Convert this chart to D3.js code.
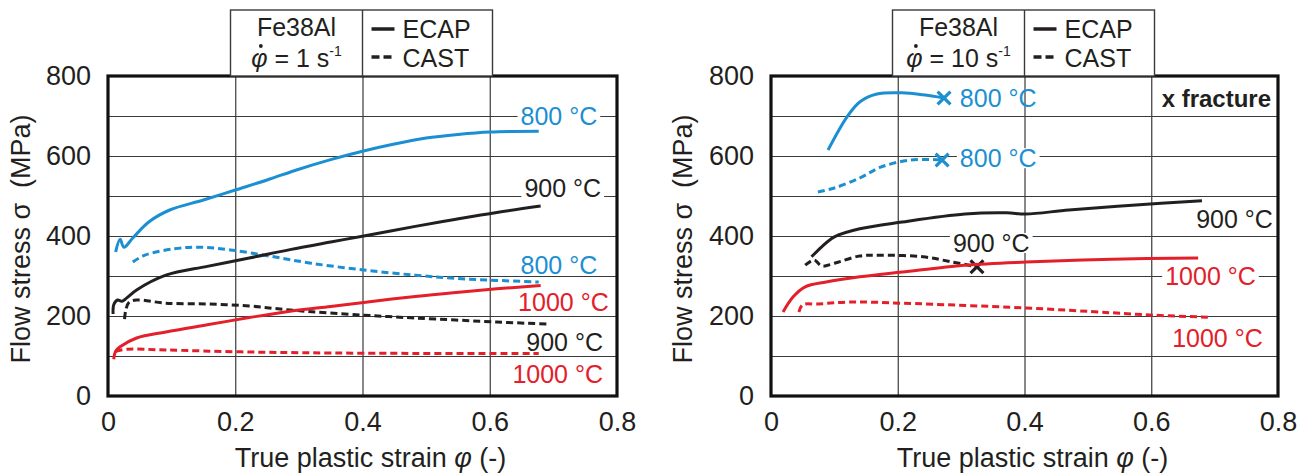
<!DOCTYPE html>
<html>
<head>
<meta charset="utf-8">
<script src="https://cdn.jsdelivr.net/npm/d3@7"></script>
<style>
  body { margin: 0; background: #fff; }
  svg { font-family: "Liberation Sans", Arial, sans-serif; }
</style>
</head>
<body>
<div id="chart"></div>
<script>
// [true plastic strain, flow stress MPa]
// strain rate 1 s-1
const r1Ecap800 = [[0.012,360],[0.019,392],[0.025,372],[0.039,395],[0.064,435],[0.097,465],[0.15,490],[0.2,515],[0.25,540],[0.3,567],[0.35,591],[0.4,612],[0.45,630],[0.5,645],[0.55,654],[0.6,660],[0.677,662]];
const r1Cast800 = [[0.039,335],[0.058,352],[0.104,368],[0.143,372],[0.189,366],[0.253,350],[0.319,332],[0.402,315],[0.483,302],[0.547,294],[0.611,289],[0.677,285]];
const r1Ecap900 = [[0.008,205],[0.009,228],[0.015,240],[0.022,237],[0.03,246],[0.045,265],[0.091,302],[0.156,324],[0.222,345],[0.286,366],[0.35,385],[0.402,400],[0.483,424],[0.547,442],[0.611,459],[0.68,475]];
const r1Cast900 = [[0.026,192],[0.028,215],[0.033,234],[0.045,240],[0.091,232],[0.156,230],[0.222,225],[0.286,215],[0.402,202],[0.483,195],[0.611,185],[0.69,180]];
const r1Ecap1000 = [[0.009,92],[0.012,112],[0.019,123],[0.045,145],[0.091,160],[0.156,178],[0.222,196],[0.286,212],[0.35,224],[0.402,234],[0.483,249],[0.547,259],[0.611,268],[0.68,276]];
const r1Cast1000 = [[0.012,112],[0.03,117],[0.091,115],[0.222,110],[0.402,107],[0.677,106]];

// strain rate 10 s-1
const r10Ecap800 = [[0.09,615],[0.12,698],[0.14,735],[0.167,755],[0.207,758],[0.24,753],[0.273,745]];
const r10Cast800 = [[0.074,510],[0.1,520],[0.14,545],[0.173,572],[0.22,590],[0.27,590]];
const r10Ecap900 = [[0.064,348],[0.08,373],[0.1,398],[0.14,418],[0.207,435],[0.306,455],[0.372,458],[0.402,455],[0.47,465],[0.57,477],[0.68,488]];
const r10Cast900 = [[0.054,327],[0.068,340],[0.08,325],[0.1,332],[0.14,350],[0.173,352],[0.24,348],[0.286,335],[0.325,323]];
const r10Ecap1000 = [[0.019,210],[0.035,248],[0.054,273],[0.087,285],[0.14,298],[0.207,310],[0.306,327],[0.402,335],[0.538,342],[0.674,345]];
const r10Cast1000 = [[0.044,210],[0.05,228],[0.074,230],[0.126,235],[0.207,232],[0.402,220],[0.538,208],[0.604,202],[0.69,197]];

const xTicks = [0, 0.2, 0.4, 0.6, 0.8];
const yTicks = [0, 200, 400, 600, 800];
const yGrid = [100, 200, 300, 400, 500, 600, 700];
const rates = ['1', '10'];

const width = 1308, height = 475;
const colors = { 800: '#1b8fd2', 900: '#231f20', 1000: '#e3202a' };
const ink = '#231f20';

const svg = d3.select('#chart').append('svg')
  .attr('width', width)
  .attr('height', height);

// label: [text, strain, stress, temp, anchor, whiteBg]
const panels = [
  {
    left: 108, right: 617, titleX: 30,
    series: [
      { d: r1Ecap800, t: 800 }, { d: r1Cast800, t: 800, dash: true },
      { d: r1Ecap900, t: 900 }, { d: r1Cast900, t: 900, dash: true },
      { d: r1Ecap1000, t: 1000 }, { d: r1Cast1000, t: 1000, dash: true }
    ],
    labels: [
      ['800 °C', 0.769, 677, 800, 'end', true],
      ['900 °C', 0.775, 497, 900, 'end', true],
      ['800 °C', 0.769, 305, 800, 'end', false],
      ['1000 °C', 0.787, 212, 1000, 'end', false],
      ['900 °C', 0.778, 112, 900, 'end', false],
      ['1000 °C', 0.778, 32, 1000, 'end', false]
    ]
  },
  {
    left: 771, right: 1278, titleX: 692,
    series: [
      { d: r10Ecap800, t: 800, x: true }, { d: r10Cast800, t: 800, dash: true, x: true },
      { d: r10Ecap900, t: 900 }, { d: r10Cast900, t: 900, dash: true, x: true },
      { d: r10Ecap1000, t: 1000 }, { d: r10Cast1000, t: 1000, dash: true }
    ],
    labels: [
      ['800 °C', 0.298, 722, 800, 'start', false],
      ['800 °C', 0.298, 572, 800, 'start', true],
      ['900 °C', 0.792, 420, 900, 'end', false],
      ['900 °C', 0.287, 360, 900, 'start', true],
      ['1000 °C', 0.765, 277, 1000, 'end', true],
      ['1000 °C', 0.776, 122, 1000, 'end', false]
    ]
  }
];

const plotTop = 76, plotBottom = 396;

panels.forEach((p, i) => {
  const x = d3.scaleLinear().domain([0, 0.8]).range([p.left, p.right]);
  const y = d3.scaleLinear().domain([0, 800]).range([plotBottom, plotTop]);
  const g = svg.append('g');

  // grid
  g.append('g')
    .attr('transform', `translate(0,${plotBottom})`)
    .call(d3.axisBottom(x).tickValues(xTicks.slice(1, -1)).tickSize(-(plotBottom - plotTop)).tickFormat(''))
    .call(a => a.select('.domain').remove())
    .call(a => a.selectAll('line').attr('stroke', '#3a3a3a').attr('stroke-width', 1.2));
  g.append('g')
    .attr('transform', `translate(${p.left},0)`)
    .call(d3.axisLeft(y).tickValues(yGrid).tickSize(-(p.right - p.left)).tickFormat(''))
    .call(a => a.select('.domain').remove())
    .call(a => a.selectAll('line').attr('stroke', '#3a3a3a').attr('stroke-width', 1.2));

  // tick labels
  g.append('g')
    .attr('transform', `translate(${p.left},0)`)
    .call(d3.axisLeft(y).tickValues(yTicks).tickSize(0).tickPadding(17))
    .call(a => a.select('.domain').remove())
    .call(a => a.selectAll('text').attr('font-size', 27).attr('fill', ink).attr('font-family', null));
  g.append('g')
    .attr('transform', `translate(0,${plotBottom})`)
    .call(d3.axisBottom(x).tickValues(xTicks).tickSize(0).tickPadding(16).tickFormat(d => d === 0 ? '0' : d3.format('.1f')(d)))
    .call(a => a.select('.domain').remove())
    .call(a => a.selectAll('text').attr('font-size', 27).attr('fill', ink).attr('font-family', null));

  // axis titles
  g.append('text')
    .attr('x', (p.left + p.right) / 2 + 8).attr('y', 467)
    .attr('text-anchor', 'middle').attr('font-size', 27).attr('fill', ink)
    .html('True plastic strain <tspan font-style="italic">φ</tspan> (-)');
  g.append('text')
    .attr('transform', `translate(${p.titleX},${(plotTop + plotBottom) / 2 + 3}) rotate(-90)`)
    .attr('text-anchor', 'middle').attr('font-size', 27).attr('fill', ink)
    .attr('xml:space', 'preserve')
    .text('Flow stress σ  (MPa)');

  // curves
  const line = d3.line().x(d => x(d[0])).y(d => y(d[1])).curve(d3.curveCatmullRom.alpha(0.5));
  p.series.forEach(s => {
    g.append('path')
      .attr('d', line(s.d))
      .attr('fill', 'none')
      .attr('stroke', colors[s.t])
      .attr('stroke-width', 3)
      .attr('stroke-dasharray', s.dash ? '7,4' : null);
    if (s.x) {
      const end = s.d[s.d.length - 1];
      g.append('path')
        .attr('d', d3.symbol(d3.symbolTimes, 110)())
        .attr('transform', `translate(${x(end[0])},${y(end[1])})`)
        .attr('fill', 'none')
        .attr('stroke', colors[s.t])
        .attr('stroke-width', 3.2);
    }
  });

  // frame
  g.append('rect')
    .attr('x', p.left).attr('y', plotTop)
    .attr('width', p.right - p.left).attr('height', plotBottom - plotTop)
    .attr('fill', 'none').attr('stroke', '#111').attr('stroke-width', 3.2);

  // curve labels
  p.labels.forEach(l => {
    const t = g.append('text')
      .attr('x', x(l[1])).attr('y', y(l[2]))
      .attr('text-anchor', l[4])
      .attr('font-size', 25)
      .attr('fill', colors[l[3]])
      .text(l[0]);
    if (l[5]) {
      const b = t.node().getBBox();
      g.insert('rect', () => t.node())
        .attr('x', b.x - 3).attr('y', b.y + 4)
        .attr('width', b.width + 6).attr('height', b.height - 8)
        .attr('fill', '#fff');
    }
  });

  if (i === 1) {
    g.append('text')
      .attr('x', x(0.789)).attr('y', y(722))
      .attr('text-anchor', 'end').attr('font-size', 24).attr('font-weight', 'bold')
      .attr('fill', ink).text('x fracture');
  }

  // legend box
  const mid = x(0.4);
  const lg = g.append('g');
  lg.append('rect')
    .attr('x', mid - 132).attr('y', 10)
    .attr('width', 262).attr('height', plotTop - 10)
    .attr('fill', '#fff').attr('stroke', '#3a3a3a').attr('stroke-width', 1.4);
  lg.append('line')
    .attr('x1', mid).attr('x2', mid).attr('y1', 10).attr('y2', plotTop)
    .attr('stroke', '#3a3a3a').attr('stroke-width', 1.4);
  lg.append('text')
    .attr('x', mid - 66).attr('y', 36)
    .attr('text-anchor', 'middle').attr('font-size', 25).attr('fill', ink)
    .text('Fe38Al');
  const rateText = lg.append('text')
    .attr('x', mid - 66).attr('y', 67)
    .attr('text-anchor', 'middle').attr('font-size', 25).attr('fill', ink)
    .html(`<tspan font-style="italic">φ</tspan> = ${rates[i]} s<tspan font-size="14" dy="-11">-1</tspan>`);
  // dot above phi (rate symbol)
  const ext = rateText.node().getExtentOfChar(0);
  lg.append('circle')
    .attr('cx', ext.x + ext.width / 2 + 1.5).attr('cy', ext.y + 2)
    .attr('r', 1.9).attr('fill', ink);
  lg.append('line')
    .attr('x1', mid + 9).attr('x2', mid + 32).attr('y1', 29).attr('y2', 29)
    .attr('stroke', ink).attr('stroke-width', 3.5);
  lg.append('line')
    .attr('x1', mid + 9).attr('x2', mid + 32).attr('y1', 57).attr('y2', 57)
    .attr('stroke', ink).attr('stroke-width', 3.5).attr('stroke-dasharray', '8,4');
  lg.append('text')
    .attr('x', mid + 40).attr('y', 38)
    .attr('font-size', 25).attr('fill', ink).text('ECAP');
  lg.append('text')
    .attr('x', mid + 40).attr('y', 67)
    .attr('font-size', 25).attr('fill', ink).text('CAST');
});
</script>
</body>
</html>
